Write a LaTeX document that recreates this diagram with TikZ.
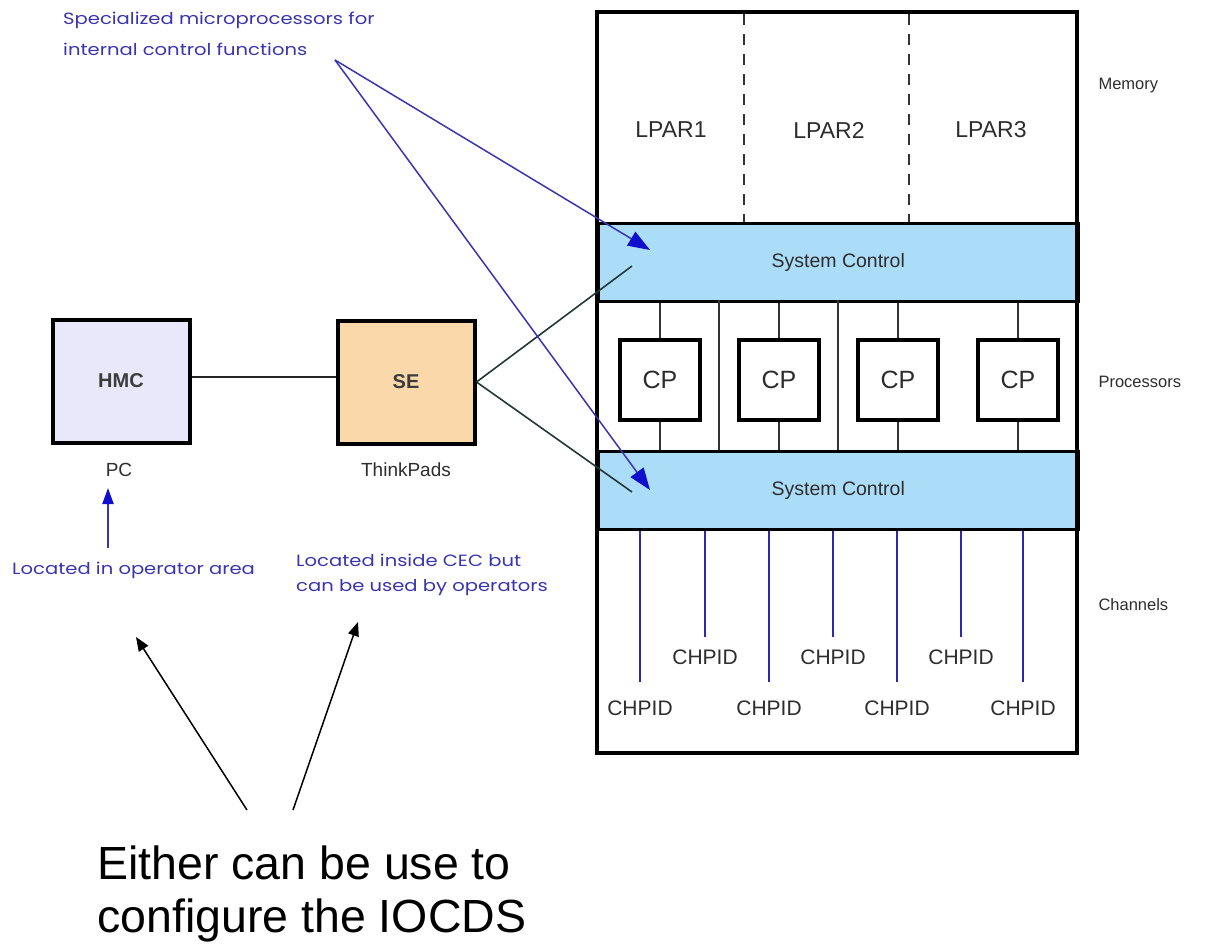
\documentclass[tikz,border=0pt]{standalone}
\usepackage{fontspec}
\setmainfont{Liberation Sans}
\newfontfamily\notefont[FakeStretch=1.2]{Poppins}
\usetikzlibrary{arrows.meta,calc}

\definecolor{sysblue}{RGB}{172,221,248}
\definecolor{hmcfill}{RGB}{232,232,250}
\definecolor{sefill}{RGB}{250,216,170}
\definecolor{noteblue}{RGB}{58,52,175}
\definecolor{headblue}{RGB}{15,15,205}
\definecolor{chanblue}{RGB}{45,40,175}
\definecolor{textgray}{RGB}{45,45,45}
\definecolor{boxtext}{RGB}{60,60,60}
\definecolor{linkgray}{RGB}{35,55,55}

\tikzset{
  frame/.style={draw=black, line width=4pt},
  divider/.style={draw=black!80, line width=1.5pt},
  band/.style={fill=sysblue, draw=black, line width=2.5pt, minimum width=480pt,
    minimum height=78pt, anchor=north west, inner sep=0pt, text=textgray,
    font=\fontsize{19.5}{23}\selectfont},
  cpbox/.style={draw=black, fill=white, line width=3.5pt, minimum width=80pt,
    minimum height=80pt, inner sep=0pt, text=textgray, font=\fontsize{25}{28}\selectfont},
  devbox/.style={draw=black, line width=4pt, minimum width=137pt, minimum height=123pt,
    inner sep=0pt, text=boxtext, font=\bfseries\fontsize{20}{23}\selectfont},
  lpar/.style={text=textgray, font=\fontsize{23}{26}\selectfont},
  sidelabel/.style={text=textgray, anchor=west, font=\fontsize{16.5}{19}\selectfont},
  devlabel/.style={text=textgray, font=\fontsize{19}{22}\selectfont},
  chpid/.style={text=textgray, font=\fontsize{21}{24}\selectfont},
  note/.style={text=noteblue, align=left, inner sep=0pt, font=\notefont\fontsize{16.3}{31}\selectfont},
  chan/.style={draw=chanblue, line width=1.8pt},
  connector/.style={draw=black!85, line width=1.5pt},
  link/.style={draw=linkgray, line width=1.6pt},
  bluearrow/.style={draw=noteblue, line width=1.5pt,
    -{Triangle[length=22pt,width=16pt,fill=headblue,color=headblue]}},
  blackarrow/.style={draw=black, line width=1.5pt, -{Triangle[length=14pt,width=11pt]}},
  bigtext/.style={anchor=base west, inner sep=0pt, text=black, font=\fontsize{46.5}{55}\selectfont}
}

\begin{document}
\begin{tikzpicture}[x=1pt,y=-1pt]
\useasboundingbox (0,0) rectangle (1224,950);

% ---- CEC: memory, system control, processors, channels ----
\coordinate (cecnw) at (597,12);
\coordinate (cecse) at (1077,753);

% memory partitions
\node[lpar] (lpar1) at (671,130) {LPAR1};
\node[lpar] (lpar2) at (829,130) {LPAR2};
\node[lpar] (lpar3) at (991,130) {LPAR3};
\draw[divider, dash pattern=on 11pt off 9pt] (744,14) -- (744,222);
\draw[divider, dash pattern=on 11pt off 9pt] (909,14) -- (909,222);

% system control bands
\node[band] (sc1) at (597,222) {System Control};
\node[band] (sc2) at (597,450) {System Control};

% processor dividers
\draw[divider] (719,300) -- (719,450);
\draw[divider] (838,300) -- (838,450);

% central processors
\foreach \i/\x in {1/660,2/779,3/898,4/1018}{
  \node[cpbox] (cp\i) at (\x,380) {CP};
  \draw[divider] (cp\i.north) -- (cp\i.north |- sc1.south);
  \draw[divider] (cp\i.south) -- (cp\i.south |- sc2.north);
}

% channel paths
\foreach \i/\x/\y in {1/640/708,3/769/708,5/897/708,7/1023/708}{
  \node[chpid] (ch\i) at (\x,\y) {CHPID};
  \coordinate (chend\i) at (\x,682);
  \draw[chan] (sc2.south -| chend\i) -- (chend\i);
}
\foreach \i/\x/\y in {2/705/657,4/833/657,6/961/657}{
  \node[chpid] (ch\i) at (\x,\y) {CHPID};
  \coordinate (chend\i) at (\x,637);
  \draw[chan] (sc2.south -| chend\i) -- (chend\i);
}

% outer frame
\draw[frame] (cecnw) rectangle (cecse);

% side labels
\node[sidelabel] (memlbl) at (1095,86) {Memory};
\node[sidelabel] (proclbl) at (1095,382) {Processors};
\node[sidelabel] (chanlbl) at (1095,605) {Channels};

% ---- consoles ----
\node[devbox, fill=hmcfill] (hmc) at (121,381) {HMC};
\node[devbox, fill=sefill] (se) at (406,382) {SE};
\node[devlabel] (pc) at (119,470) {PC};
\node[devlabel] (tp) at (406,470) {ThinkPads};
\draw[connector] (hmc.east |- 0,377) -- (se.west |- 0,377);

\coordinate (sc1in) at (632,266);
\coordinate (sc2in) at (632,492);
\draw[link] (se.east) -- (sc1in);
\draw[link] (se.east) -- (sc2in);

% ---- annotations ----
\node[note, anchor=north west] (micro) at (63,12)
  {Specialized microprocessors for\\internal control functions};
\coordinate (microfoot) at (335,60);
\coordinate (sc1tip) at (650,250);
\coordinate (sc2tip) at (650,490);
\draw[bluearrow] (microfoot) -- (sc1tip);
\draw[bluearrow] (microfoot) -- (sc2tip);

\node[note, anchor=west] (oparea) at (12,570) {Located in operator area};
\coordinate (opfoot) at (108,548);
\coordinate (optip) at (108,488);
\draw[bluearrow, -{Triangle[length=16pt,width=11pt,fill=headblue,color=headblue]}, line width=2pt] (opfoot) -- (optip);

\node[note, anchor=north west, font=\notefont\fontsize{16.3}{25}\selectfont] (inside) at (296,554)
  {Located inside CEC but\\can be used by operators};

% ---- IOCDS remark ----
\node[bigtext] (either) at (97,879) {Either can be use to};
\node[bigtext] (config) at (97,932) {configure the IOCDS};
\coordinate (left0) at (247,810);
\coordinate (left1) at (136,637);
\coordinate (right0) at (293,810);
\coordinate (right1) at (358,622);
\draw[blackarrow] (left0) -- (left1);
\draw[blackarrow] (right0) -- (right1);
\end{tikzpicture}
\end{document}
